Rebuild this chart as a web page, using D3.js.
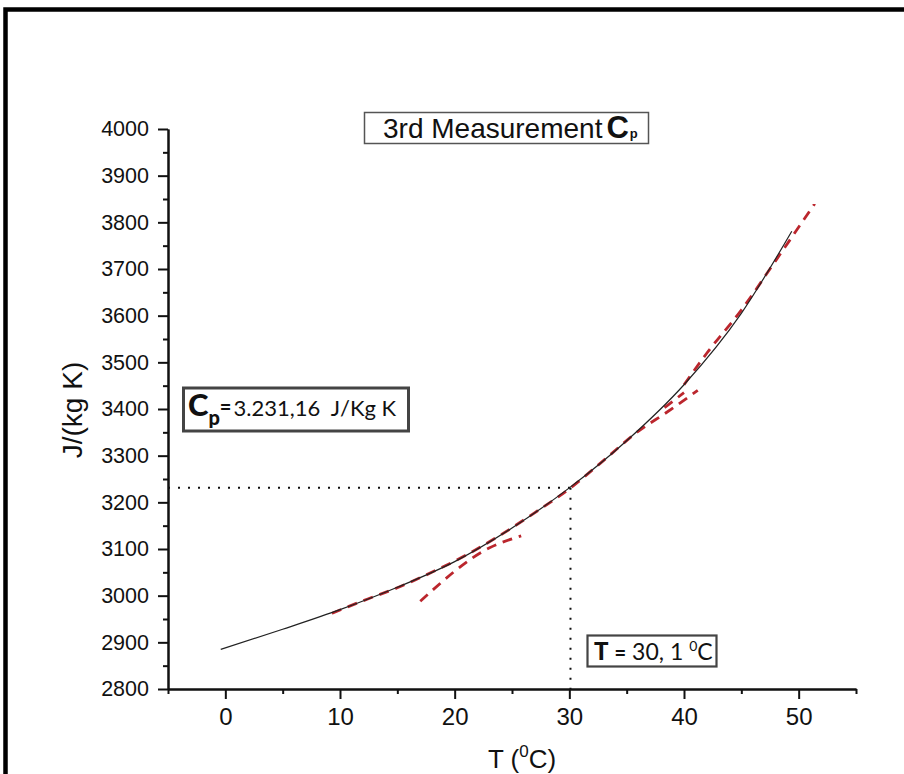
<!DOCTYPE html>
<html><head><meta charset="utf-8">
<script src="https://cdn.jsdelivr.net/npm/d3@7"></script>
<style>body{margin:0;background:#fff}svg{display:block}text{white-space:pre}</style>
</head><body>
<svg id="c" width="904" height="774"></svg>
<script>
// ---- data ----
const curveT = [-0.4, 5, 10, 15, 20, 25, 30, 35, 40, 45, 49.4];
const curveV = [2885, 2928, 2970, 3018, 3073, 3145, 3231, 3332, 3452, 3605, 3781];
const redAT = [9.3, 12, 15, 18, 21, 24, 27, 30, 33, 36, 38.5, 41.2];
const redAV = [2962, 2989, 3017, 3050, 3087, 3130, 3178, 3229, 3290, 3352, 3393, 3440];
const redBT = [17, 23, 25.8];
const redBV = [2988, 3102, 3128];
const redCT = [38.3, 40];
const redCV = [3403, 3435];
const redDT = [40, 42, 45, 48, 51.4];
const redDV = [3452, 3520, 3612, 3718, 3840];
const xMajor = [0, 10, 20, 30, 40, 50];
const xMinor = [-5, 5, 15, 25, 35, 45, 55];
const yMajor = [2800, 2900, 3000, 3100, 3200, 3300, 3400, 3500, 3600, 3700, 3800, 3900, 4000];
const yMinor = [2850, 2950, 3050, 3150, 3250, 3350, 3450, 3550, 3650, 3750, 3850, 3950];
const cpValue = 3231.16;
const tValue = 30.1;

const svg = d3.select("#c");
const x = d3.scaleLinear([-5, 55], [168, 856]);
const y = d3.scaleLinear([2800, 4000], [689, 129]);
const axisFont = "'Liberation Sans', Arial, sans-serif";
const annFont = "Lato, 'Open Sans', sans-serif";

// frame
svg.append("path").attr("d", "M5.5,774V9.5H904").attr("fill", "none")
  .attr("stroke", "#000").attr("stroke-width", 4.5);

// axes
function styleAxis(g, fs) {
  g.select(".domain").attr("stroke", "#111").attr("stroke-width", 2);
  g.selectAll(".tick line").attr("stroke", "#111").attr("stroke-width", 2);
  g.selectAll(".tick text").attr("font-family", axisFont).attr("font-size", fs).attr("fill", "#111");
}
const gx = svg.append("g").attr("transform", "translate(0,689)")
  .call(d3.axisBottom(x).tickValues(xMajor).tickSize(10).tickPadding(9).tickSizeOuter(0).tickFormat(d3.format("d")));
styleAxis(gx, 24);
const gxm = svg.append("g").attr("transform", "translate(0,689)")
  .call(d3.axisBottom(x).tickValues(xMinor).tickSize(5).tickSizeOuter(0).tickFormat(""));
styleAxis(gxm, 24);
const gy = svg.append("g").attr("transform", "translate(168,0)")
  .call(d3.axisLeft(y).tickValues(yMajor).tickSize(10).tickPadding(9).tickSizeOuter(0).tickFormat(d3.format("d")));
styleAxis(gy, 21.5);
const gym = svg.append("g").attr("transform", "translate(168,0)")
  .call(d3.axisLeft(y).tickValues(yMinor).tickSize(5).tickSizeOuter(0).tickFormat(""));
styleAxis(gym, 21.5);

// axis labels
svg.append("text").attr("transform", "translate(82,410) rotate(-90)")
  .attr("text-anchor", "middle").attr("font-family", axisFont).attr("font-size", 28).attr("fill", "#111")
  .text("J/(kg K)");
const xl = svg.append("text").attr("x", 522).attr("y", 768).attr("text-anchor", "middle")
  .attr("font-family", axisFont).attr("font-size", 26).attr("fill", "#111");
xl.append("tspan").text("T (");
xl.append("tspan").attr("dy", -11).attr("font-size", 17).text("0");
xl.append("tspan").attr("dy", 11).text("C)");

// dotted guide lines
svg.append("line").attr("x1", x(-5)).attr("x2", x(tValue)).attr("y1", y(cpValue)).attr("y2", y(cpValue))
  .attr("stroke", "#111").attr("stroke-width", 2).attr("stroke-dasharray", "2,8");
svg.append("line").attr("x1", x(tValue)).attr("x2", x(tValue)).attr("y1", y(cpValue)).attr("y2", y(2800))
  .attr("stroke", "#111").attr("stroke-width", 2).attr("stroke-dasharray", "2,8");

// curves
const line = d3.line().x(d => x(d[0])).y(d => y(d[1])).curve(d3.curveMonotoneX);
const zip = (a, b) => a.map((v, i) => [v, b[i]]);
const reds = [[redAT, redAV], [redBT, redBV], [redCT, redCV], [redDT, redDV]];
reds.forEach(([t, v]) => {
  svg.append("path").attr("d", line(zip(t, v))).attr("fill", "none")
    .attr("stroke", "#bb262d").attr("stroke-width", 2.8).attr("stroke-dasharray", "10,7");
});
svg.append("path").attr("d", line(zip(curveT, curveV))).attr("fill", "none")
  .attr("stroke", "#222").attr("stroke-width", 1.2);

// title box
svg.append("rect").attr("x", 364.5).attr("y", 112.5).attr("width", 284).attr("height", 31)
  .attr("fill", "#fff").attr("stroke", "#555").attr("stroke-width", 1.5);
const tt = svg.append("text").attr("x", 383).attr("y", 138).attr("font-family", axisFont)
  .attr("font-size", 28).attr("fill", "#111");
tt.append("tspan").text("3rd Measurement");
tt.append("tspan").attr("dx", 4).attr("font-weight", "bold").attr("font-size", 31).text("C");
tt.append("tspan").attr("dx", 1).attr("font-size", 13).attr("font-weight", "bold").text("p");

// Cp box
svg.append("rect").attr("x", 183.5).attr("y", 388).attr("width", 225).attr("height", 43)
  .attr("fill", "#fff").attr("stroke", "#444").attr("stroke-width", 3);
const ct = svg.append("text").attr("x", 188).attr("y", 416).attr("font-family", annFont).attr("fill", "#111");
ct.append("tspan").attr("font-weight", "900").attr("font-size", 31).text("C");
ct.append("tspan").attr("font-weight", "900").attr("font-size", 20).attr("dy", 9).text("p");
ct.append("tspan").attr("font-weight", "900").attr("font-size", 20).attr("dy", -11).text("=");
ct.append("tspan").attr("font-size", 22).attr("dy", 2).attr("dx", 2).text("3.231,16  J/Kg K");

// T box
svg.append("rect").attr("x", 587.5).attr("y", 635.5).attr("width", 129).attr("height", 31)
  .attr("fill", "#fff").attr("stroke", "#444").attr("stroke-width", 2.2);
const tb = svg.append("text").attr("x", 594).attr("y", 660).attr("font-family", annFont).attr("fill", "#111");
tb.append("tspan").attr("font-weight", "900").attr("font-size", 24).text("T");
tb.append("tspan").attr("font-weight", "900").attr("font-size", 20).attr("dx", 6).text("=");
tb.append("tspan").attr("font-size", 23).attr("dx", 6).text("30, 1 ");
tb.append("tspan").attr("font-size", 14).attr("dy", -9).text("0");
tb.append("tspan").attr("font-size", 23).attr("dy", 9).text("C");
</script>
</body></html>
